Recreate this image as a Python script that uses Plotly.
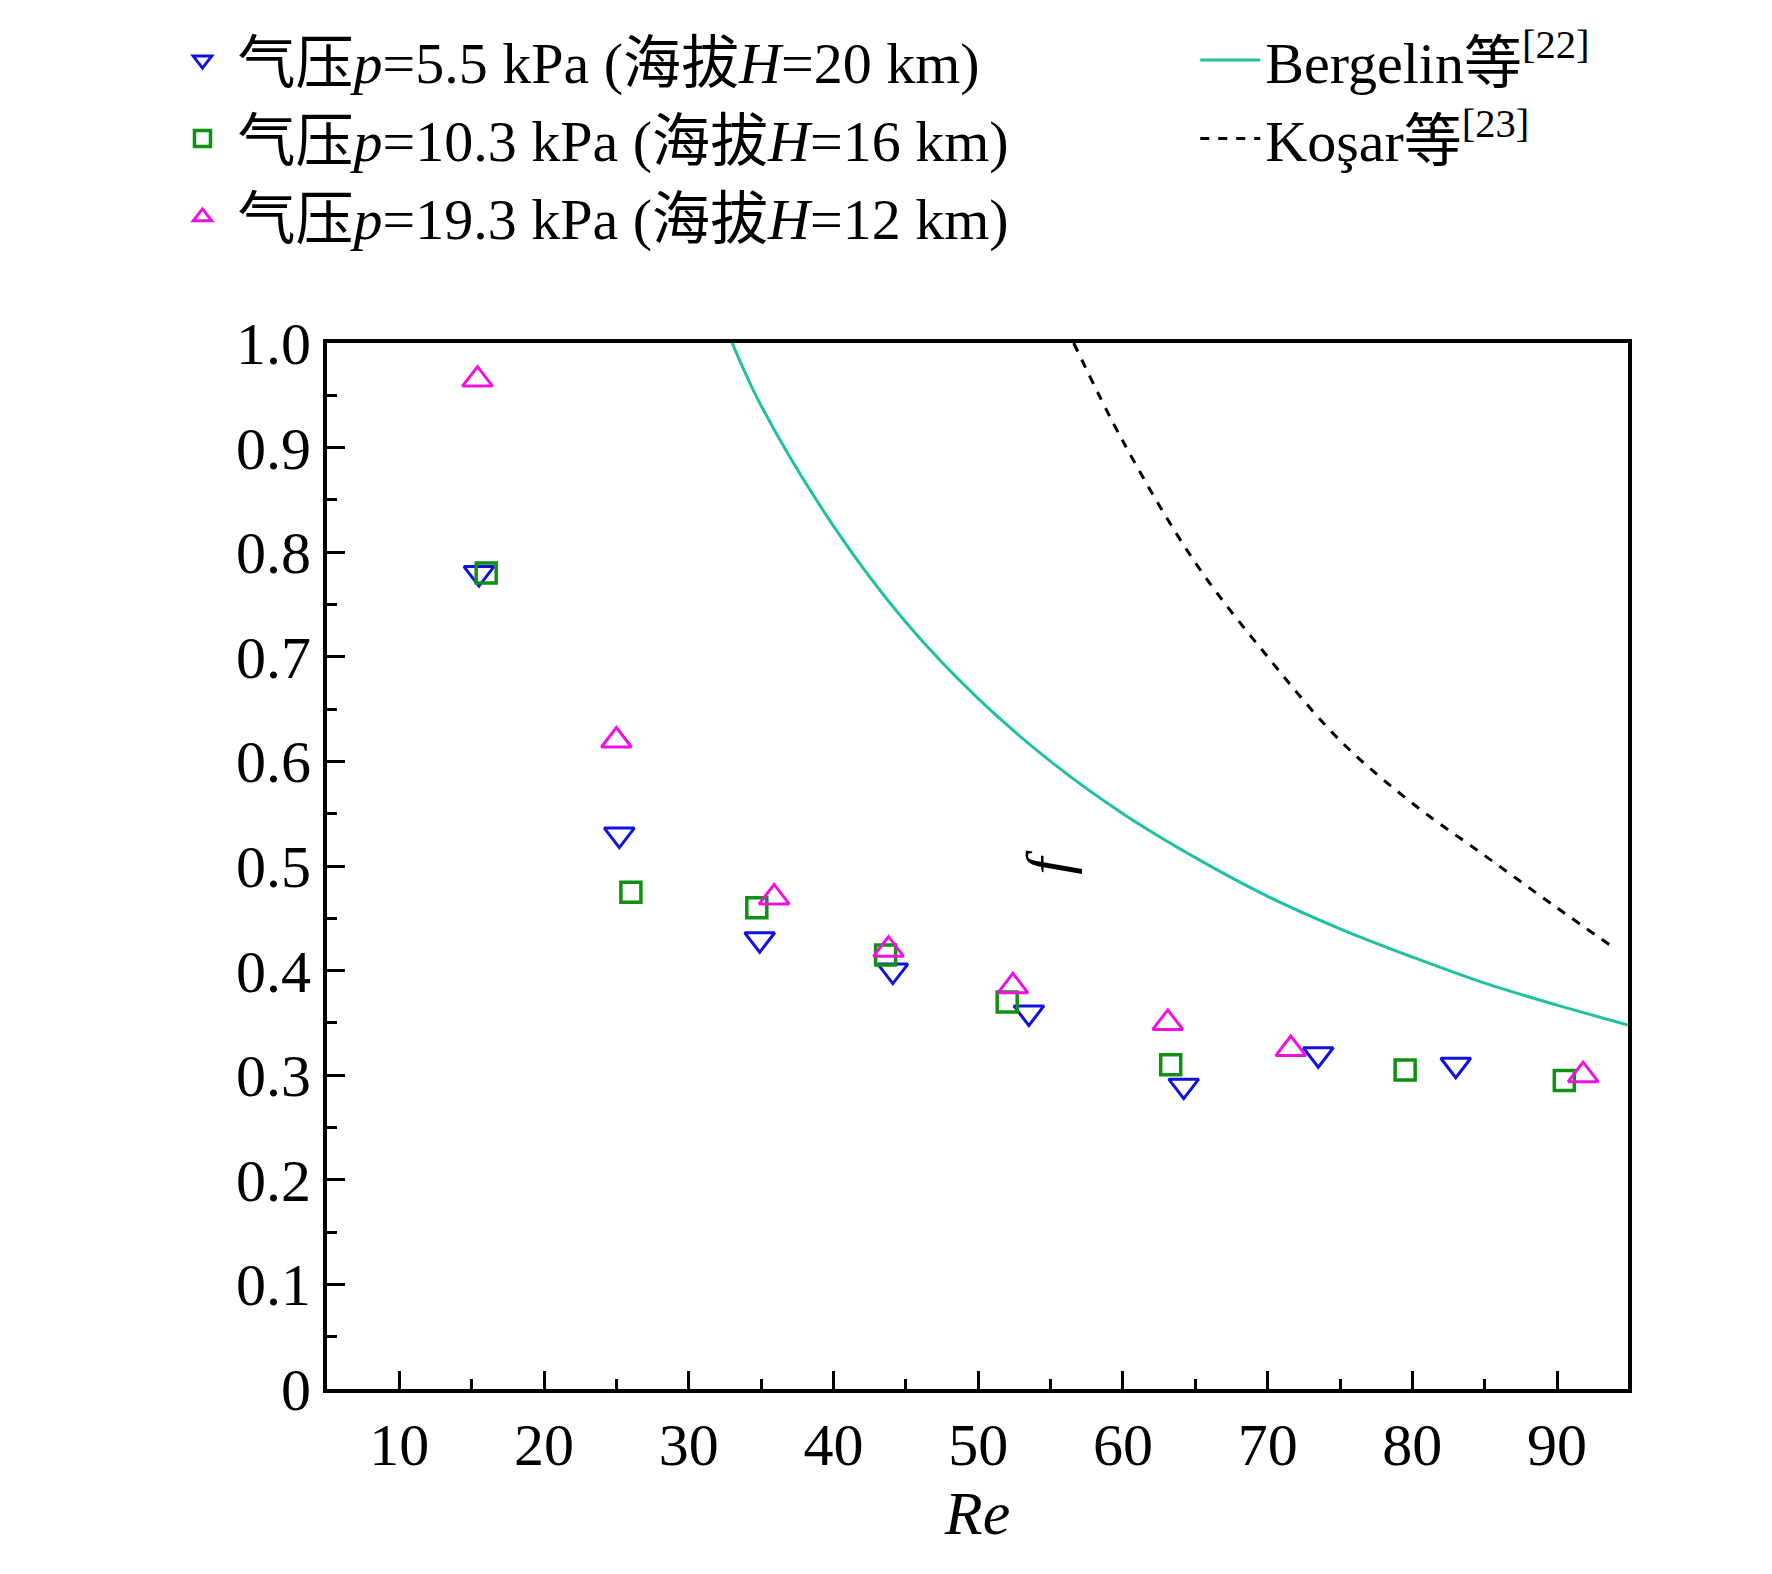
import plotly.graph_objects as go

re_p55 = [15.5, 25.2, 34.9, 44.1, 53.5, 64.2, 73.5, 83.0]
f_p55 = [0.78, 0.53, 0.43, 0.40, 0.36, 0.29, 0.32, 0.31]
re_p103 = [16.0, 26.0, 34.7, 43.6, 52.0, 63.3, 79.5, 90.5]
f_p103 = [0.78, 0.475, 0.46, 0.415, 0.37, 0.31, 0.305, 0.295]
re_p193 = [15.4, 25.0, 35.9, 43.8, 52.4, 63.1, 71.6, 91.8]
f_p193 = [0.965, 0.62, 0.47, 0.42, 0.385, 0.35, 0.325, 0.30]

re_berg = [33, 35, 40, 45, 50, 55, 60, 65, 70, 75, 80, 85, 90, 94.9]
f_berg = [1.0, 0.94, 0.825, 0.733, 0.66, 0.60, 0.55, 0.508, 0.471, 0.44, 0.413, 0.388, 0.367, 0.348]
re_kosar = [56.6, 60, 65, 70, 75, 80, 85, 90, 93.8]
f_kosar = [1.0, 0.906, 0.79, 0.70, 0.62, 0.56, 0.51, 0.46, 0.423]

y_ticks = [0, 0.1, 0.2, 0.3, 0.4, 0.5, 0.6, 0.7, 0.8, 0.9, 1.0]
y_labels = ["0", "0.1", "0.2", "0.3", "0.4", "0.5", "0.6", "0.7", "0.8", "0.9", "1.0"]

FONT = "Liberation Serif, Times New Roman, Noto Sans CJK SC"

fig = go.Figure()
fig.add_trace(go.Scatter(x=re_p55, y=f_p55, mode="markers", legend="legend",
                         name="气压<i>p</i>=5.5 kPa (海拔<i>H</i>=20 km)",
                         marker=dict(symbol="triangle-down-open", color="#1010e0", size=26, line=dict(width=3))))
fig.add_trace(go.Scatter(x=re_p103, y=f_p103, mode="markers", legend="legend",
                         name="气压<i>p</i>=10.3 kPa (海拔<i>H</i>=16 km)",
                         marker=dict(symbol="square-open", color="#109010", size=20, line=dict(width=3.5))))
fig.add_trace(go.Scatter(x=re_p193, y=f_p193, mode="markers", legend="legend",
                         name="气压<i>p</i>=19.3 kPa (海拔<i>H</i>=12 km)",
                         marker=dict(symbol="triangle-up-open", color="#f010e0", size=26, line=dict(width=3))))
fig.add_trace(go.Scatter(x=re_berg, y=f_berg, mode="lines", line_shape="spline", legend="legend2",
                         name="Bergelin等<sup>[22]</sup>",
                         line=dict(color="#20c0a0", width=3)))
fig.add_trace(go.Scatter(x=re_kosar, y=f_kosar, mode="lines", line_shape="spline", legend="legend2",
                         name="Koşar等<sup>[23]</sup>",
                         line=dict(color="black", width=3, dash="dash")))

axis_common = dict(showline=True, linecolor="black", linewidth=4, mirror=True,
                   ticks="inside", ticklen=18, tickwidth=3, tickcolor="black",
                   showgrid=False, zeroline=False,
                   tickfont=dict(size=60, family=FONT, color="black"))
fig.update_xaxes(range=[5, 94.9], dtick=10, tick0=10,
                 minor=dict(ticks="inside", ticklen=10, tickwidth=3, dtick=5, tick0=5),
                 title=dict(text="<i>Re</i>", font=dict(size=62, family=FONT)),
                 **axis_common)
fig.update_yaxes(range=[0, 1.0], tickvals=y_ticks, ticktext=y_labels,
                 minor=dict(ticks="inside", ticklen=10, tickwidth=3, dtick=0.05),
                 title=dict(text="<i>f</i>", font=dict(size=62, family=FONT)),
                 **axis_common)

leg = dict(yref="container", xref="container", y=0.995, yanchor="top", xanchor="left",
           font=dict(size=58, family=FONT), itemwidth=60, tracegroupgap=0,
           bgcolor="rgba(0,0,0,0)")
fig.update_layout(
    width=1772, height=1574,
    margin=dict(l=319, r=152, t=335, b=193, autoexpand=False),
    plot_bgcolor="white", paper_bgcolor="white",
    font=dict(family=FONT, color="black"),
    legend=dict(x=0.09, **leg),
    legend2=dict(x=0.67, **leg),
)

fig.write_html("out.html")
